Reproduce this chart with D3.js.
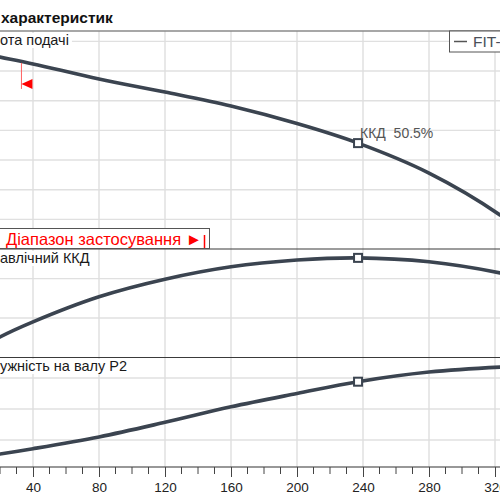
<!DOCTYPE html>
<html>
<head>
<meta charset="utf-8">
<script src="https://cdn.jsdelivr.net/npm/d3@7"></script>
<style>
  html, body { margin: 0; padding: 0; background: #fff; }
  svg { display: block; font-family: "Liberation Sans", Arial, sans-serif; }
</style>
</head>
<body>
<div id="chart"></div>
<script>
// flow rate, m3/h
var flowQ = [0, 20, 40, 80, 120, 160, 200, 237, 280, 323, 340];
// head, m
var headH = [9.7, 9.47, 9.24, 8.73, 8.29, 7.82, 7.23, 6.57, 5.56, 4.15, 3.4];
// hydraulic efficiency, %
var effEta = [0, 10.4, 18.1, 30.8, 39.7, 46.0, 49.4, 50.5, 48.5, 42.9, 39.5];
// shaft power P2, kW
var powerP2 = [5.4, 5.55, 5.72, 6.10, 6.57, 7.07, 7.50, 7.88, 8.19, 8.35, 8.38];

var xTicks = [0, 40, 80, 120, 160, 200, 240, 280, 320, 360];
var headGrid = [4, 5, 6, 7, 8, 9, 10];
var effGrid = [20, 40];
var powerGrid = [6, 7, 8];

var dutyIndex = 7;
var rangeStartQ = 33;
var pumpName = 'FIT-';

(function () {
  'use strict';

  var width = 500, height = 500;
  var curveColor = '#3b4450';

  var svg = d3.select('#chart')
    .append('svg')
    .attr('width', width)
    .attr('height', height);

  var x = d3.scaleLinear().domain([0, 320]).range([-33, 495]);

  var panels = [
    { name: 'head', label: 'Висота подачі', cut: 3, top: 31, bottom: 249, domain: [3, 10.35], grid: headGrid, values: headH, labelY: 45 },
    { name: 'eff', label: 'Гідравлічний ККД', cut: 4, top: 249, bottom: 357.5, domain: [0, 55], grid: effGrid, values: effEta, labelY: 263 },
    { name: 'power', label: 'Потужність на валу P2', cut: 3, top: 357.5, bottom: 467, domain: [5.13, 8.66], grid: powerGrid, values: powerP2, labelY: 371 }
  ];

  panels.forEach(function (p) {
    p.y = d3.scaleLinear().domain(p.domain).range([p.bottom, p.top]);
  });

  // title
  svg.append('text')
    .attr('x', 1)
    .attr('y', 23)
    .attr('font-size', 15.5)
    .attr('font-weight', 'bold')
    .attr('fill', '#111')
    .text('характеристик');

  // gridlines
  var grid = svg.append('g').attr('class', 'grid');

  panels.forEach(function (p) {
    grid.append('g')
      .selectAll('line')
      .data(p.grid)
      .enter().append('line')
      .attr('x1', 0)
      .attr('x2', width)
      .attr('y1', function (d) { return p.y(d); })
      .attr('y2', function (d) { return p.y(d); })
      .attr('stroke', '#e0e0e0')
      .attr('stroke-width', 1.4);
  });

  grid.append('g')
    .selectAll('line')
    .data(xTicks)
    .enter().append('line')
    .attr('x1', function (d) { return x(d); })
    .attr('x2', function (d) { return x(d); })
    .attr('y1', 31)
    .attr('y2', 467)
    .attr('stroke', '#dedede')
    .attr('stroke-width', 1.4);

  // panel labels (start of text falls off the left edge, as in the source)
  panels.forEach(function (p) {
    var g = svg.append('g');
    var bg = g.append('rect').attr('fill', '#fff');
    var t = g.append('text')
      .attr('y', p.labelY)
      .attr('font-size', 14.5)
      .attr('fill', '#1a1a1a')
      .text(p.label);
    var shift = t.node().getSubStringLength(0, p.cut);
    var len = t.node().getComputedTextLength();
    t.attr('x', -shift);
    bg.attr('x', 0)
      .attr('y', p.labelY - 12)
      .attr('width', len - shift + 3)
      .attr('height', 15);
  });

  // frame lines
  svg.append('line')
    .attr('x1', 0).attr('x2', width)
    .attr('y1', 31).attr('y2', 31)
    .attr('stroke', '#8a8a8a')
    .attr('stroke-width', 1.5);

  svg.selectAll('.divider')
    .data([249, 357.5])
    .enter().append('line')
    .attr('class', 'divider')
    .attr('x1', 0).attr('x2', width)
    .attr('y1', function (d) { return d; })
    .attr('y2', function (d) { return d; })
    .attr('stroke', '#3a3a3a')
    .attr('stroke-width', 1.2);

  // x axis
  var axis = svg.append('g')
    .attr('transform', 'translate(0,467)')
    .call(d3.axisBottom(x)
      .tickValues(xTicks.filter(function (d) { return d > 0; }))
      .tickSize(10)
      .tickPadding(5));

  axis.select('.domain')
    .attr('d', 'M0,0H' + width)
    .attr('stroke', '#333')
    .attr('stroke-width', 1.2);
  axis.selectAll('.tick line').attr('stroke', '#444');
  axis.selectAll('.tick text')
    .attr('font-size', 13.5)
    .attr('font-family', '"Liberation Sans", Arial, sans-serif')
    .attr('fill', '#222');

  var minorTicks = d3.range(0, 330, 10).filter(function (d) { return d % 40 !== 0; });
  axis.append('g')
    .selectAll('line')
    .data(minorTicks)
    .enter().append('line')
    .attr('x1', function (d) { return x(d); })
    .attr('x2', function (d) { return x(d); })
    .attr('y1', 0)
    .attr('y2', 7)
    .attr('stroke', '#444');

  // curves
  panels.forEach(function (p) {
    svg.append('clipPath')
      .attr('id', 'clip-' + p.name)
      .append('rect')
      .attr('x', 0)
      .attr('y', p.top)
      .attr('width', width)
      .attr('height', p.bottom - p.top);

    var line = d3.line()
      .x(function (d, k) { return x(flowQ[k]); })
      .y(function (d) { return p.y(d); })
      .curve(d3.curveCatmullRom.alpha(0.5));

    svg.append('path')
      .datum(p.values)
      .attr('clip-path', 'url(#clip-' + p.name + ')')
      .attr('d', line)
      .attr('fill', 'none')
      .attr('stroke', curveColor)
      .attr('stroke-width', 3.6)
      .attr('stroke-linejoin', 'round');

    // duty point marker
    svg.append('rect')
      .attr('x', x(flowQ[dutyIndex]) - 4)
      .attr('y', p.y(p.values[dutyIndex]) - 4)
      .attr('width', 8)
      .attr('height', 8)
      .attr('fill', '#fff')
      .attr('stroke', curveColor)
      .attr('stroke-width', 2);
  });

  svg.append('text')
    .attr('x', x(flowQ[dutyIndex]) + 2)
    .attr('y', panels[0].y(headH[dutyIndex]) - 5)
    .attr('font-size', 14)
    .attr('fill', '#555')
    .attr('xml:space', 'preserve')
    .text('ККД  ' + effEta[dutyIndex].toFixed(1) + '%');

  // start of application range marker
  var rx = x(rangeStartQ);
  var ry = panels[0].y(headH[2]);
  svg.append('line')
    .attr('x1', rx).attr('x2', rx)
    .attr('y1', ry - 1).attr('y2', ry + 25)
    .attr('stroke', '#ff6060')
    .attr('stroke-width', 1);
  svg.append('path')
    .attr('d', 'M' + rx + ',' + (ry + 20) + 'L' + (rx + 11) + ',' + (ry + 15) + 'L' + (rx + 11) + ',' + (ry + 25) + 'Z')
    .attr('fill', '#ff0000');

  // application range box
  var box = svg.append('g');
  box.append('rect')
    .attr('x', -10)
    .attr('y', 228.5)
    .attr('width', 219.5)
    .attr('height', 20)
    .attr('fill', '#fff')
    .attr('stroke', '#555')
    .attr('stroke-width', 1);
  box.append('text')
    .attr('x', 6)
    .attr('y', 245)
    .attr('font-size', 16.5)
    .attr('fill', '#ff0000')
    .text('Діапазон застосування ►');
  box.append('line')
    .attr('x1', 204.5).attr('x2', 204.5)
    .attr('y1', 235).attr('y2', 248)
    .attr('stroke', '#ff0000')
    .attr('stroke-width', 1.5);

  // legend
  var legend = svg.append('g');
  legend.append('rect')
    .attr('x', 449.5)
    .attr('y', 31)
    .attr('width', 70)
    .attr('height', 21)
    .attr('fill', '#fff')
    .attr('stroke', '#555')
    .attr('stroke-width', 1);
  legend.append('line')
    .attr('x1', 454).attr('x2', 467)
    .attr('y1', 41.5).attr('y2', 41.5)
    .attr('stroke', '#555')
    .attr('stroke-width', 1.5);
  legend.append('text')
    .attr('x', 473)
    .attr('y', 47)
    .attr('font-size', 15.5)
    .attr('fill', '#4a4f58')
    .text(pumpName);

})();
</script>
</body>
</html>
